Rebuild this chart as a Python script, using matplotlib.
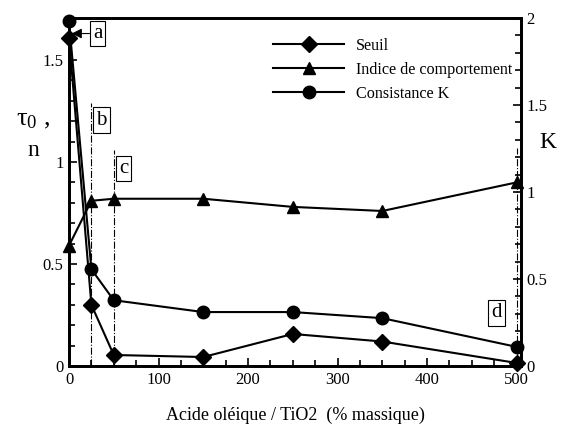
import numpy as np
import matplotlib
matplotlib.use("Agg")
from matplotlib import pyplot as plt
from matplotlib.ticker import MultipleLocator

plt.rcParams["font.family"] = ["Liberation Serif", "DejaVu Serif"]
plt.rcParams["mathtext.fontset"] = "stix"

# données
ratio = [0, 25, 50, 150, 250, 350, 500]
seuil = [1.61, 0.30, 0.054, 0.044, 0.157, 0.12, 0.015]
indice = [0.59, 0.81, 0.82, 0.82, 0.78, 0.76, 0.90]
consistance = [1.98, 0.556, 0.378, 0.31, 0.31, 0.275, 0.11]

# repères verticaux (x, hauteur) et étiquettes
vlines_x = [25, 50, 500]
vlines_top = [1.29, 1.06, 1.07]
box_labels = ["b", "c", "d"]
box_pos = [(36, 1.206), (61, 0.97), (478, 0.26)]

fig = plt.figure(figsize=(5.77, 4.24), dpi=100)
ax = fig.add_axes([0.1196, 0.1368, 0.7834, 0.8207])
ax2 = ax.twinx()

l1, = ax.plot(ratio, seuil, "-", color="k", lw=1.5, marker="D", ms=8,
              label="Seuil", clip_on=False, zorder=5)
l2, = ax.plot(ratio, indice, "-", color="k", lw=1.5, marker="^", ms=9,
              label="Indice de comportement", clip_on=False, zorder=5)
l3, = ax2.plot(ratio, consistance, "-", color="k", lw=1.5, marker="o", ms=9,
               label="Consistance K", clip_on=False, zorder=5)

for xv, top in zip(vlines_x, vlines_top):
    ax.plot([xv, xv], [0, top], color="k", lw=0.8, ls="-.")

bbox = dict(boxstyle="square,pad=0.15", fc="white", ec="k", lw=0.8)
for lab, (bx, by) in zip(box_labels, box_pos):
    ax.text(bx, by, lab, fontsize=15, ha="center", va="center", bbox=bbox)

ax.annotate("a", xy=(3, 1.63), xytext=(32, 1.63), fontsize=15,
            ha="center", va="center", bbox=bbox,
            arrowprops=dict(arrowstyle="-|>", color="k", lw=0.8,
                            shrinkA=0, shrinkB=0))

ax.set_xlim(0, 505)
ax.set_ylim(0, 1.706)
ax2.set_ylim(0, 2)

ax.xaxis.set_major_locator(MultipleLocator(100))
ax.xaxis.set_minor_locator(MultipleLocator(25))
ax.yaxis.set_major_locator(MultipleLocator(0.5))
ax.yaxis.set_minor_locator(MultipleLocator(0.1))
ax2.yaxis.set_major_locator(MultipleLocator(0.5))
ax2.yaxis.set_minor_locator(MultipleLocator(0.1))

ax.set_yticks([0, 0.5, 1, 1.5])
ax.set_yticklabels(["0", "0.5", "1", "1.5"])
ax2.set_yticks([0, 0.5, 1, 1.5, 2])
ax2.set_yticklabels(["0", "0.5", "1", "1.5", "2"])

for a in (ax, ax2):
    for s in a.spines.values():
        s.set_linewidth(2)
    a.tick_params(which="both", direction="in", labelsize=12, width=1.2)
    a.tick_params(which="major", length=6)
    a.tick_params(which="minor", length=4)
ax.tick_params(top=False, right=False, pad=4)
ax2.tick_params(pad=4)

ax.set_xlabel("Acide oléique / TiO2  (% massique)", fontsize=13, labelpad=14)
fig.text(0.057, 0.717, r"$\mathregular{τ_0}$ ,", fontsize=19,
         ha="center", va="center")
fig.text(0.057, 0.646, "n", fontsize=17, ha="center", va="center")
fig.text(0.95, 0.665, "K", fontsize=17, ha="center", va="center")

ax.legend(handles=[l1, l2, l3], loc="upper left",
          bbox_to_anchor=(0.42, 0.985), frameon=False, fontsize=11.6,
          handlelength=4.4, handletextpad=0.7, labelspacing=0.5)

fig.savefig("out.png", dpi=100)
